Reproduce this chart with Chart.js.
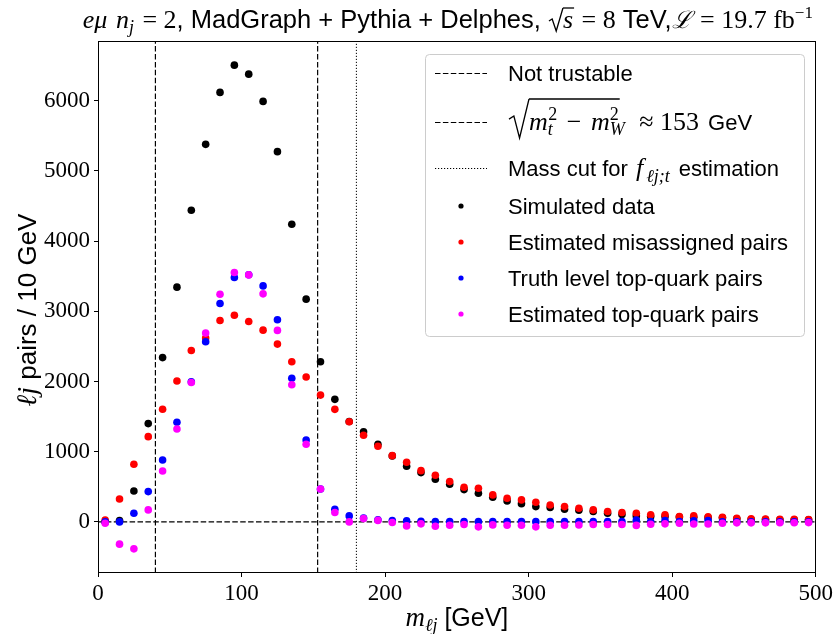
<!DOCTYPE html>
<html>
<head>
<meta charset="utf-8">
<script src="https://cdn.jsdelivr.net/npm/chart.js@4.4.1/dist/chart.umd.min.js"></script>
<style>
  body { margin: 0; background: #fff; }
  #wrap { width: 836px; height: 634px; }
</style>
</head>
<body>
<div id="wrap"><canvas id="graficoMlj" width="836" height="634"></canvas></div>
<script>
// bin centres, GeV (10 GeV bins)
var binCenters = [5, 15, 25, 35, 45, 55, 65, 75, 85, 95,
                  105, 115, 125, 135, 145, 155, 165, 175, 185, 195,
                  205, 215, 225, 235, 245, 255, 265, 275, 285, 295,
                  305, 315, 325, 335, 345, 355, 365, 375, 385, 395,
                  405, 415, 425, 435, 445, 455, 465, 475, 485, 495];

var simulatedData = [0, 20, 440, 1400, 2340, 3343, 4438, 5377, 6117, 6505,
                     6377, 5989, 5273, 4239, 3172, 2280, 1745, 1430, 1284, 1105,
                     940, 792, 702, 607, 536, 460, 408, 351, 299, 260,
                     218, 204, 180, 166, 147, 123, 104, 85, 76, 76,
                     70, 66, 60, 58, 45, 35, 32, 30, 28, 28];

var misassignedPairs = [25, 327, 820, 1214, 1605, 2006, 2442, 2620, 2869, 2944,
                        2854, 2731, 2532, 2280, 2063, 1806, 1603, 1427, 1233, 1077,
                        943, 849, 730, 664, 574, 493, 479, 384, 337, 313,
                        280, 240, 218, 194, 171, 147, 133, 123, 100, 100,
                        76, 85, 71, 66, 52, 45, 42, 38, 36, 35];

var truthTopPairs = [0, 0, 123, 431, 882, 1418, 1995, 2565, 3110, 3481,
                     3520, 3361, 2878, 2044, 1166, 469, 180, 85, 55, 30,
                     20, 14, 9, 6, 5, 5, 4, 4, 4, 3,
                     3, 3, 4, 3, 3, 3, 3, 25, 3, 20,
                     3, 15, 20, 2, 2, 2, 2, 2, 2, 2];

var estimatedTopPairs = [-20, -317, -384, 171, 725, 1323, 1985, 2689, 3243, 3552,
                         3518, 3248, 2727, 1953, 1105, 469, 133, 0, 47, 21,
                         -9, -57, -28, -62, -47, -38, -71, -43, -47, -47,
                         -71, -47, -47, -45, -38, -38, -38, -50, -33, -28,
                         -19, -30, -30, -19, -14, -14, -14, -12, -12, -10];

var xTicks = [0, 100, 200, 300, 400, 500];
var yTicks = [0, 1000, 2000, 3000, 4000, 5000, 6000];
var xRange = [0, 500];
var yRange = [-728, 6849];

var notTrustableX = 40;
var massDiffX = 153;   // sqrt(mt^2 - mW^2)
var massCutX = 180;

var SANS = '"Liberation Sans", sans-serif';
var SERIF = '"Liberation Serif", serif';
function fnt(size, style, fam) { return (style ? style + ' ' : '') + size + 'px ' + fam; }

var DASH = [5.5, 2.4];
var DOT = [1.2, 1.8];

// ---- rich text (math bits in serif italic, rest in sans) ----
function richWidth(ctx, parts) {
  var w = 0;
  parts.forEach(function(p){
    ctx.font = p.f || fnt(22, '', SANS);
    w += (p.dx || 0) + (p.rad || 0) + ctx.measureText(p.t || '').width;
  });
  return w;
}

function drawRich(ctx, parts, x, y, align) {
  var w = richWidth(ctx, parts);
  var pen = align === 'center' ? x - w / 2 : x;
  var bar = null;
  ctx.textAlign = 'left';
  ctx.textBaseline = 'alphabetic';
  ctx.fillStyle = '#000';
  ctx.strokeStyle = '#000';
  parts.forEach(function(p){
    ctx.font = p.f || fnt(22, '', SANS);
    pen += p.dx || 0;
    if (p.rad) {
      var H = p.radH, B = p.radB, R = p.rad;
      ctx.save();
      ctx.lineWidth = 1.3;
      ctx.setLineDash([]);
      ctx.beginPath();
      ctx.moveTo(pen + 1, y - H * 0.35);
      ctx.lineTo(pen + R * 0.28, y - H * 0.45);
      ctx.lineTo(pen + R * 0.55, y + B);
      ctx.lineTo(pen + R, y - H);
      ctx.stroke();
      ctx.restore();
      bar = { x0: pen + R, x1: pen + R, y: y - H };
      pen += R;
      return;
    }
    ctx.fillText(p.t, pen, y + (p.dy || 0));
    pen += ctx.measureText(p.t).width;
    if (p.over && bar) bar.x1 = pen + 1;
  });
  if (bar) {
    ctx.save();
    ctx.lineWidth = 1.3;
    ctx.beginPath();
    ctx.moveTo(bar.x0, bar.y);
    ctx.lineTo(bar.x1, bar.y);
    ctx.stroke();
    ctx.restore();
  }
}

var titleParts = [
  { t: 'eμ', f: fnt(26, 'italic', SERIF) },
  { t: ' n', f: fnt(26, 'italic', SERIF), dx: 2 },
  { t: 'j', f: fnt(18, 'italic', SERIF), dy: 5 },
  { t: ' = 2', f: fnt(26, '', SERIF), dx: 2 },
  { t: ', MadGraph + Pythia + Delphes, ', f: fnt(25.5, '', SANS) },
  { rad: 15, radH: 20, radB: 3 },
  { t: 's', f: fnt(26, 'italic', SERIF), over: true },
  { t: ' = 8', f: fnt(26, '', SERIF), dx: 2 },
  { t: ' TeV,', f: fnt(25.5, '', SANS) },
  { t: 'ℒ', f: fnt(24, 'italic', SERIF) },
  { t: ' = 19.7 fb', f: fnt(26, '', SERIF), dx: 2 },
  { t: '−1', f: fnt(17, '', SERIF), dy: -10 }
];

var yLabelParts = [
  { t: 'ℓj', f: fnt(28, 'italic', SERIF) },
  { t: ' pairs / 10 GeV', f: fnt(26, '', SANS) }
];

var xLabelParts = [
  { t: 'm', f: fnt(27, 'italic', SERIF) },
  { t: 'ℓj', f: fnt(18, 'italic', SERIF), dy: 5 },
  { t: ' [GeV]', f: fnt(25, '', SANS) }
];

var legendEntries = [
  { kind: 'dash', parts: [{ t: 'Not trustable' }] },
  { kind: 'dash', parts: [
      { rad: 21, radH: 31, radB: 8 },
      { t: 'm', f: fnt(26, 'italic', SERIF), over: true },
      { t: 't', f: fnt(18, 'italic', SERIF), dy: 5, over: true },
      { t: '2', f: fnt(18, '', SERIF), dy: -10, dx: -4.5, over: true },
      { t: ' − ', f: fnt(26, '', SERIF), dx: 3, over: true },
      { t: 'm', f: fnt(26, 'italic', SERIF), dx: 3, over: true },
      { t: 'W', f: fnt(18, 'italic', SERIF), dy: 5, over: true },
      { t: '2', f: fnt(18, '', SERIF), dy: -10, dx: -15, over: true },
      { t: ' ≈ 153', f: fnt(26, '', SERIF), dx: 14 },
      { t: ' GeV', dx: 3 }
  ] },
  { kind: 'dot', parts: [
      { t: 'Mass cut for ' },
      { t: 'f', f: fnt(26, 'italic', SERIF), dx: 2 },
      { t: 'ℓj;t', f: fnt(18, 'italic', SERIF), dy: 6, dx: 3 },
      { t: ' estimation', dx: 3 }
  ] },
  { kind: 'marker', color: '#000000', parts: [{ t: 'Simulated data' }] },
  { kind: 'marker', color: '#ff0000', parts: [{ t: 'Estimated misassigned pairs' }] },
  { kind: 'marker', color: '#0000ff', parts: [{ t: 'Truth level top-quark pairs' }] },
  { kind: 'marker', color: '#ff00ff', parts: [{ t: 'Estimated top-quark pairs' }] }
];
var legendRowY = [73, 122, 168, 206, 242, 278, 314];

var decoracao = {
  id: 'decoracao',
  afterDatasetsDraw: function(chart) {
    var c = chart.ctx, a = chart.chartArea;
    c.save();
    c.strokeStyle = '#000';
    c.lineWidth = 1;
    c.setLineDash([]);
    c.strokeRect(Math.round(a.left) + 0.5, Math.round(a.top) + 0.5,
                 Math.round(a.right - a.left) - 1, Math.round(a.bottom - a.top) - 1);
    c.restore();
  },
  afterDraw: function(chart) {
    var c = chart.ctx, a = chart.chartArea;
    c.save();
    drawRich(c, titleParts, (a.left + a.right) / 2 - 9, 28, 'center');
    drawRich(c, xLabelParts, (a.left + a.right) / 2, 626, 'center');
    c.translate(36, (a.top + a.bottom) / 2 + 3);
    c.rotate(-Math.PI / 2);
    drawRich(c, yLabelParts, 0, 0, 'center');
    c.restore();

    // legend box
    c.save();
    c.beginPath();
    c.roundRect(425.5, 54.5, 379, 282, 4);
    c.fillStyle = 'rgba(255,255,255,0.8)';
    c.fill();
    c.strokeStyle = '#cccccc';
    c.lineWidth = 1;
    c.stroke();
    legendEntries.forEach(function(e, i){
      var yc = legendRowY[i];
      c.strokeStyle = '#000';
      if (e.kind === 'dash' || e.kind === 'dot') {
        c.lineWidth = e.kind === 'dash' ? 1.2 : 1;
        c.setLineDash(e.kind === 'dash' ? DASH : DOT);
        c.beginPath();
        c.moveTo(435, yc + 0.5);
        c.lineTo(487, yc + 0.5);
        c.stroke();
        c.setLineDash([]);
      } else {
        c.fillStyle = e.color;
        c.beginPath();
        c.arc(461, yc, 2.6, 0, Math.PI * 2);
        c.fill();
      }
      drawRich(c, e.parts, 508, yc + 8, 'left');
    });
    c.restore();
  }
};

function guia(x0, y0, x1, y1, dash, width) {
  return {
    type: 'line',
    data: [{ x: x0, y: y0 }, { x: x1, y: y1 }],
    borderColor: '#000', borderWidth: width, borderDash: dash,
    pointRadius: 0, showLine: true, fill: false, order: 10
  };
}

function pontos(label, values, color, ordem) {
  return {
    label: label,
    data: binCenters.map(function(c, i){ return { x: c, y: values[i] }; }),
    backgroundColor: color, borderColor: color, borderWidth: 0,
    pointRadius: 3.8, pointHoverRadius: 3.8, showLine: false, order: ordem
  };
}

var eixoFont = { family: SERIF, size: 23 };
function semMilhar(v) { return String(v); }

var grafico = new Chart(document.getElementById('graficoMlj').getContext('2d'), {
  type: 'scatter',
  data: {
    datasets: [
      guia(xRange[0], 0, xRange[1], 0, DASH, 1.2),
      guia(notTrustableX, yRange[0], notTrustableX, yRange[1], DASH, 1.2),
      guia(massDiffX, yRange[0], massDiffX, yRange[1], DASH, 1.2),
      guia(massCutX, yRange[0], massCutX, yRange[1], DOT, 1),
      pontos('Simulated data', simulatedData, '#000000', 4),
      pontos('Estimated misassigned pairs', misassignedPairs, '#ff0000', 3),
      pontos('Truth level top-quark pairs', truthTopPairs, '#0000ff', 2),
      pontos('Estimated top-quark pairs', estimatedTopPairs, '#ff00ff', 1)
    ]
  },
  options: {
    responsive: false,
    animation: false,
    layout: { padding: { top: 41, right: 18, bottom: 0, left: 0 } },
    plugins: { legend: { display: false }, tooltip: { enabled: false }, title: { display: false } },
    scales: {
      x: {
        type: 'linear', min: xRange[0], max: xRange[1],
        afterBuildTicks: function(s){ s.ticks = xTicks.map(function(v){ return { value: v }; }); },
        afterFit: function(s){ s.height = 61; },
        ticks: { font: eixoFont, color: '#000', padding: 3, maxRotation: 0, autoSkip: false, callback: semMilhar },
        grid: { drawOnChartArea: false, drawTicks: true, tickLength: 4, color: '#000', tickColor: '#000' },
        border: { display: false }
      },
      y: {
        type: 'linear', min: yRange[0], max: yRange[1],
        afterBuildTicks: function(s){ s.ticks = yTicks.map(function(v){ return { value: v }; }); },
        afterFit: function(s){ s.width = 98; },
        ticks: { font: eixoFont, color: '#000', padding: 4, autoSkip: false, callback: semMilhar },
        grid: { drawOnChartArea: false, drawTicks: true, tickLength: 4, color: '#000', tickColor: '#000' },
        border: { display: false }
      }
    }
  },
  plugins: [decoracao]
});
</script>
</body>
</html>
